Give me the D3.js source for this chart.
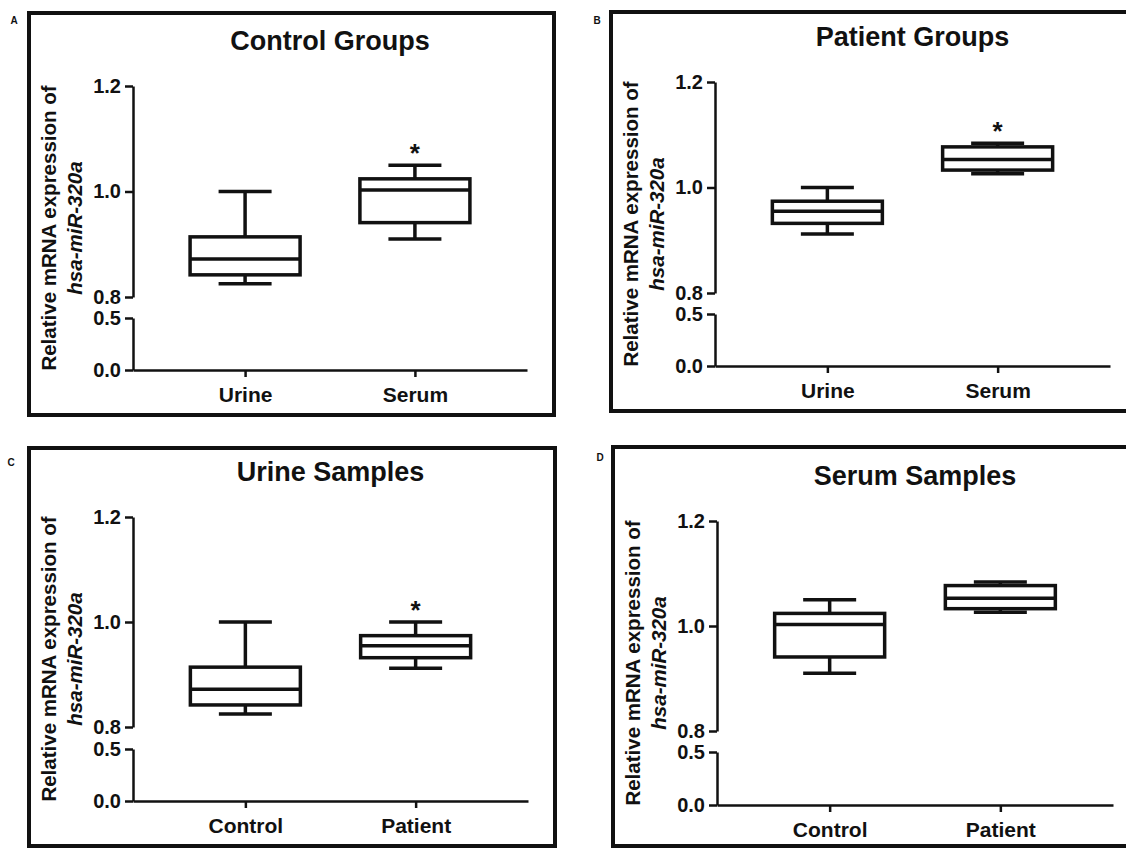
<!DOCTYPE html>
<html>
<head>
<meta charset="utf-8">
<script src="https://cdn.jsdelivr.net/npm/d3@7"></script>
<style>
  body { margin: 0; background: #fff; }
  svg text { font-family: "Liberation Sans", Arial, sans-serif; font-weight: bold; fill: #111; }
</style>
</head>
<body>
<div id="chart"></div>
<script>
// box stats: [min, q1, median, q3, max]
const controlUrine = [0.825, 0.842, 0.872, 0.914, 1.0];
const controlSerum = [0.91, 0.941, 1.003, 1.024, 1.05];
const patientUrine = [0.912, 0.932, 0.955, 0.974, 1.0];
const patientSerum = [1.026, 1.033, 1.053, 1.077, 1.084];

const panelLetters = ['A', 'B', 'C', 'D'];
const titles = ['Control Groups', 'Patient Groups', 'Urine Samples', 'Serum Samples'];
const groupCats = ['Urine', 'Serum'];
const sampleCats = ['Control', 'Patient'];
const panelCats = [groupCats, groupCats, sampleCats, sampleCats];
const panelData = [
  [controlUrine, controlSerum],
  [patientUrine, patientSerum],
  [controlUrine, patientUrine],
  [controlSerum, patientSerum]
];
// asterisk above the second box?
const starred = [[false, true], [false, true], [false, true], [false, false]];

const upperTicks = [0.8, 1.0, 1.2];
const lowerTicks = [0.0, 0.5];
const yLabel1 = 'Relative mRNA expression of';
const yLabel2 = 'hsa-miR-320a';

// frame + axis geometry of each panel (pixels)
const layouts = [
  {x0: 29, y0: 13, x1: 554, y1: 415, lx: 14, ly: 24, axisX: 133, xEnd: 527, y12: 86, y08: 297, y05: 318, y00: 370},
  {x0: 611, y0: 12, x1: 1132, y1: 411, lx: 597, ly: 24, axisX: 715, xEnd: 1110, y12: 82, y08: 293, y05: 314, y00: 366},
  {x0: 29, y0: 448, x1: 555, y1: 846, lx: 11, ly: 466, axisX: 133, xEnd: 528, y12: 517, y08: 727, y05: 749, y00: 801},
  {x0: 613, y0: 447, x1: 1132, y1: 846, lx: 600, ly: 461, axisX: 717, xEnd: 1113, y12: 521, y08: 731, y05: 752, y00: 805}
];

const ink = '#111';
const svg = d3.select('#chart').append('svg')
  .attr('width', 1126)
  .attr('height', 848);

function styleAxis(sel, fontSize) {
  sel.select('.domain').attr('stroke', ink).attr('stroke-width', 2.5);
  sel.selectAll('.tick line').attr('stroke', ink).attr('stroke-width', 2.5);
  sel.selectAll('.tick text')
    .attr('fill', ink)
    .style('font-size', fontSize + 'px')
    .style('font-family', '"Liberation Sans", Arial, sans-serif')
    .style('font-weight', 'bold');
}

layouts.forEach((L, i) => {
  const g = svg.append('g').attr('class', 'panel');

  g.append('rect')
    .attr('x', L.x0).attr('y', L.y0)
    .attr('width', L.x1 - L.x0).attr('height', L.y1 - L.y0)
    .attr('fill', 'none')
    .attr('stroke', ink)
    .attr('stroke-width', 4);

  g.append('text')
    .attr('x', L.lx).attr('y', L.ly)
    .attr('text-anchor', 'middle')
    .style('font-size', '10px')
    .text(panelLetters[i]);

  // broken y axis: two linear pieces
  const yUpper = d3.scaleLinear().domain([0.8, 1.2]).range([L.y08, L.y12]);
  const yLower = d3.scaleLinear().domain([0, 0.5]).range([L.y00, L.y05]);
  const y = v => (v >= 0.8 ? yUpper(v) : yLower(v));

  const x = d3.scalePoint()
    .domain(panelCats[i])
    .range([L.axisX, L.xEnd])
    .padding(0.66);

  g.append('g')
    .attr('transform', `translate(${L.axisX},0)`)
    .call(d3.axisLeft(yUpper).tickValues(upperTicks).tickFormat(d3.format('.1f'))
      .tickSize(8).tickSizeOuter(0).tickPadding(4))
    .call(s => styleAxis(s, 20));

  g.append('g')
    .attr('transform', `translate(${L.axisX},0)`)
    .call(d3.axisLeft(yLower).tickValues(lowerTicks).tickFormat(d3.format('.1f'))
      .tickSize(8).tickSizeOuter(0).tickPadding(4))
    .call(s => styleAxis(s, 20));

  g.append('g')
    .attr('transform', `translate(0,${L.y00})`)
    .call(d3.axisBottom(x).tickSize(7).tickSizeOuter(0).tickPadding(10))
    .call(s => styleAxis(s, 21));

  // title
  g.append('text')
    .attr('x', (L.axisX + L.xEnd) / 2)
    .attr('y', L.y12 - 36)
    .attr('text-anchor', 'middle')
    .style('font-size', '27px')
    .text(titles[i]);

  // y label, two lines
  const yMid = (L.y12 + L.y00) / 2;
  g.append('text')
    .attr('transform', `translate(${L.axisX - 77},${yMid}) rotate(-90)`)
    .attr('text-anchor', 'middle')
    .style('font-size', '20.5px')
    .text(yLabel1);
  g.append('text')
    .attr('transform', `translate(${L.axisX - 51},${yMid}) rotate(-90)`)
    .attr('text-anchor', 'middle')
    .style('font-size', '20.5px')
    .style('font-style', 'italic')
    .text(yLabel2);

  // boxes
  const boxW = 110, capW = 53;
  const boxes = g.selectAll('.box')
    .data(panelData[i].map((s, j) => ({cat: panelCats[i][j], s, star: starred[i][j]})))
    .enter().append('g')
    .attr('class', 'box');

  boxes.append('line')
    .attr('x1', d => x(d.cat)).attr('x2', d => x(d.cat))
    .attr('y1', d => y(d.s[4])).attr('y2', d => y(d.s[0]))
    .attr('stroke', ink).attr('stroke-width', 3.5);

  boxes.selectAll('.cap')
    .data(d => [d, d].map((dd, k) => ({cat: dd.cat, v: k ? dd.s[0] : dd.s[4]})))
    .enter().append('line')
    .attr('x1', d => x(d.cat) - capW / 2).attr('x2', d => x(d.cat) + capW / 2)
    .attr('y1', d => y(d.v)).attr('y2', d => y(d.v))
    .attr('stroke', ink).attr('stroke-width', 3.5);

  boxes.append('rect')
    .attr('x', d => x(d.cat) - boxW / 2)
    .attr('y', d => y(d.s[3]))
    .attr('width', boxW)
    .attr('height', d => y(d.s[1]) - y(d.s[3]))
    .attr('fill', '#fff')
    .attr('stroke', ink).attr('stroke-width', 3.5);

  boxes.append('line')
    .attr('x1', d => x(d.cat) - boxW / 2).attr('x2', d => x(d.cat) + boxW / 2)
    .attr('y1', d => y(d.s[2])).attr('y2', d => y(d.s[2]))
    .attr('stroke', ink).attr('stroke-width', 3.5);

  boxes.filter(d => d.star).append('text')
    .attr('x', d => x(d.cat))
    .attr('y', d => y(d.s[4]) - 3)
    .attr('text-anchor', 'middle')
    .style('font-size', '26px')
    .text('*');
});
</script>
</body>
</html>
